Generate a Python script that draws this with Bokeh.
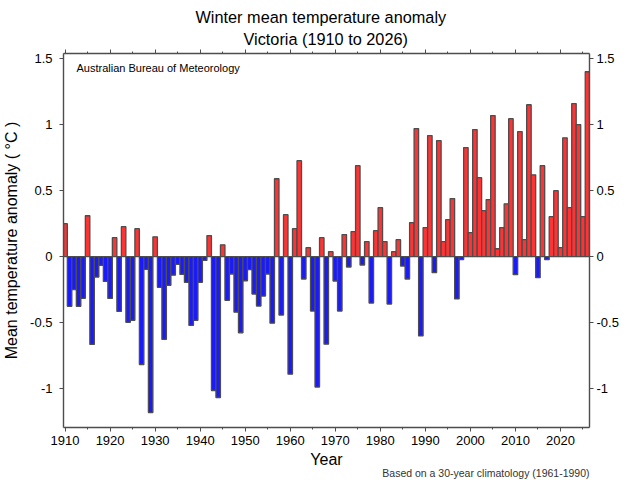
from bokeh.embed import file_html
from bokeh.models import ColumnDataSource, FixedTicker, Label, LinearAxis, Range1d, Title
from bokeh.plotting import figure
from bokeh.resources import INLINE

years = list(range(1910, 2027))
anomaly = [
    0.25, -0.376, -0.25, -0.376, -0.315, 0.31, -0.664, -0.154, -0.066, -0.187,
    -0.316, 0.144, -0.414, 0.227, -0.497, -0.482, 0.212, -0.816, -0.096, -1.18,
    0.15, -0.232, -0.626, -0.217, -0.14, -0.058, -0.134, -0.194, -0.52, -0.482,
    -0.194, -0.028, 0.16, -1.013, -1.066, 0.09, -0.33, -0.131, -0.42, -0.576,
    -0.182, -0.098, -0.283, -0.374, -0.298, -0.131, -0.503, 0.59, -0.442, 0.318,
    -0.889, 0.212, 0.727, -0.169, 0.068, -0.412, -0.987, 0.144, -0.662, 0.038,
    -0.184, -0.412, 0.167, -0.078, 0.19, 0.689, -0.063, 0.114, -0.351, 0.197,
    0.371, 0.114, -0.359, 0.038, 0.129, -0.071, -0.169, 0.258, 0.97, -0.6,
    0.22, 0.917, -0.121, 0.879, 0.114, 0.28, 0.44, -0.32, -0.023, 0.826,
    0.182, 0.962, 0.598, 0.348, 0.432, 1.068, 0.06, 0.22, 0.40, 1.045,
    -0.136, 0.947, 0.129, 1.15, 0.62, -0.159, 0.689, -0.023, 0.303, 0.5,
    0.068, 0.90, 0.371, 1.159, 1.0, 0.303, 1.40,
]
x_major = [1910, 1920, 1930, 1940, 1950, 1960, 1970, 1980, 1990, 2000, 2010, 2020]
x_minor = [1915, 1925, 1935, 1945, 1955, 1965, 1975, 1985, 1995, 2005, 2015, 2025]
y_ticks = [-1, -0.5, 0, 0.5, 1, 1.5]
y_labels = {-1: "-1", -0.5: "-0.5", 0: "0", 0.5: "0.5", 1: "1", 1.5: "1.5"}

FONT = "Liberation Sans"
DARK = "#4d4d4d"
colors = ["#ff3333" if v >= 0 else "#1a1aff" for v in anomaly]
src = ColumnDataSource(dict(year=years, value=anomaly, color=colors))

p = figure(
    output_backend="svg", toolbar_location=None,
    x_range=Range1d(1909.65, 2026.45), y_range=Range1d(-1.293, 1.538),
    frame_width=526, frame_height=374,
    min_border_left=63, min_border_right=42, min_border_top=53, min_border_bottom=53,
    x_axis_location="below", y_axis_location="left",
)
p.vbar(x="year", top="value", bottom=0, width=1.0, fill_color="color",
       line_color=DARK, line_width=1.3, source=src)

p.xgrid.visible = False
p.ygrid.visible = False
p.outline_line_color = None

p.add_layout(LinearAxis(), "right")
p.add_layout(LinearAxis(), "above")

for ax in p.xaxis:
    ax.ticker = FixedTicker(ticks=x_major, minor_ticks=x_minor)
    ax.major_label_overrides = {v: str(v) for v in x_major}
    ax.major_label_text_font = FONT
    ax.major_label_text_font_size = "13px"
    ax.major_label_text_color = "#000000"
    ax.major_label_standoff = 4
    ax.major_tick_in = 0
    ax.major_tick_out = 4
    ax.minor_tick_in = 0
    ax.minor_tick_out = 2
for ax in p.yaxis:
    ax.ticker = FixedTicker(ticks=y_ticks)
    ax.major_label_overrides = y_labels
    ax.major_label_text_font = FONT
    ax.major_label_text_font_size = "13px"
    ax.major_label_text_color = "#000000"
    ax.major_label_standoff = 7
    ax.major_tick_in = 0
    ax.major_tick_out = 4
    ax.minor_tick_line_color = None
p.right[0].major_label_standoff = 3
for ax in list(p.xaxis) + list(p.yaxis):
    ax.axis_line_color = DARK
    ax.axis_line_width = 1.4
    ax.major_tick_line_color = DARK
    ax.major_tick_line_width = 1
for ax in p.xaxis:
    ax.minor_tick_line_color = DARK

p.above[0].major_label_text_font_size = "0px"
p.above[0].major_label_text_color = None
p.above[0].major_label_standoff = 0

p.below[0].axis_label = "Year"
p.below[0].axis_label_text_font = FONT
p.below[0].axis_label_text_font_size = "16px"
p.below[0].axis_label_text_font_style = "normal"
p.below[0].axis_label_text_color = "#000000"
p.below[0].axis_label_standoff = 3

p.left[0].axis_label = "Mean temperature anomaly ( \u00b0C )"
p.left[0].axis_label_text_font = FONT
p.left[0].axis_label_text_font_size = "16px"
p.left[0].axis_label_text_font_style = "normal"
p.left[0].axis_label_text_color = "#000000"
p.left[0].axis_label_standoff = 7

p.add_layout(Title(text="Victoria (1910 to 2026)", align="left", offset=180, text_font=FONT,
                   text_font_size="16.3px", text_font_style="normal", text_color="#000000",
                   standoff=3), "above")
p.add_layout(Title(text="Winter mean temperature anomaly", align="left", offset=132, text_font=FONT,
                   text_font_size="16.3px", text_font_style="normal", text_color="#000000",
                   standoff=1), "above")
p.add_layout(Title(text="Based on a 30-year climatology (1961-1990)", align="right", text_font=FONT,
                   text_font_size="10.5px", text_font_style="normal", text_color="#333333",
                   standoff=-16), "below")

p.add_layout(Label(x=13, y=427 - 67, x_units="screen", y_units="screen",
                   text="Australian Bureau of Meteorology", text_font=FONT,
                   text_font_size="11px", text_baseline="middle", text_color="#000000"))

open("out.html", "w").write(file_html(p, INLINE))
